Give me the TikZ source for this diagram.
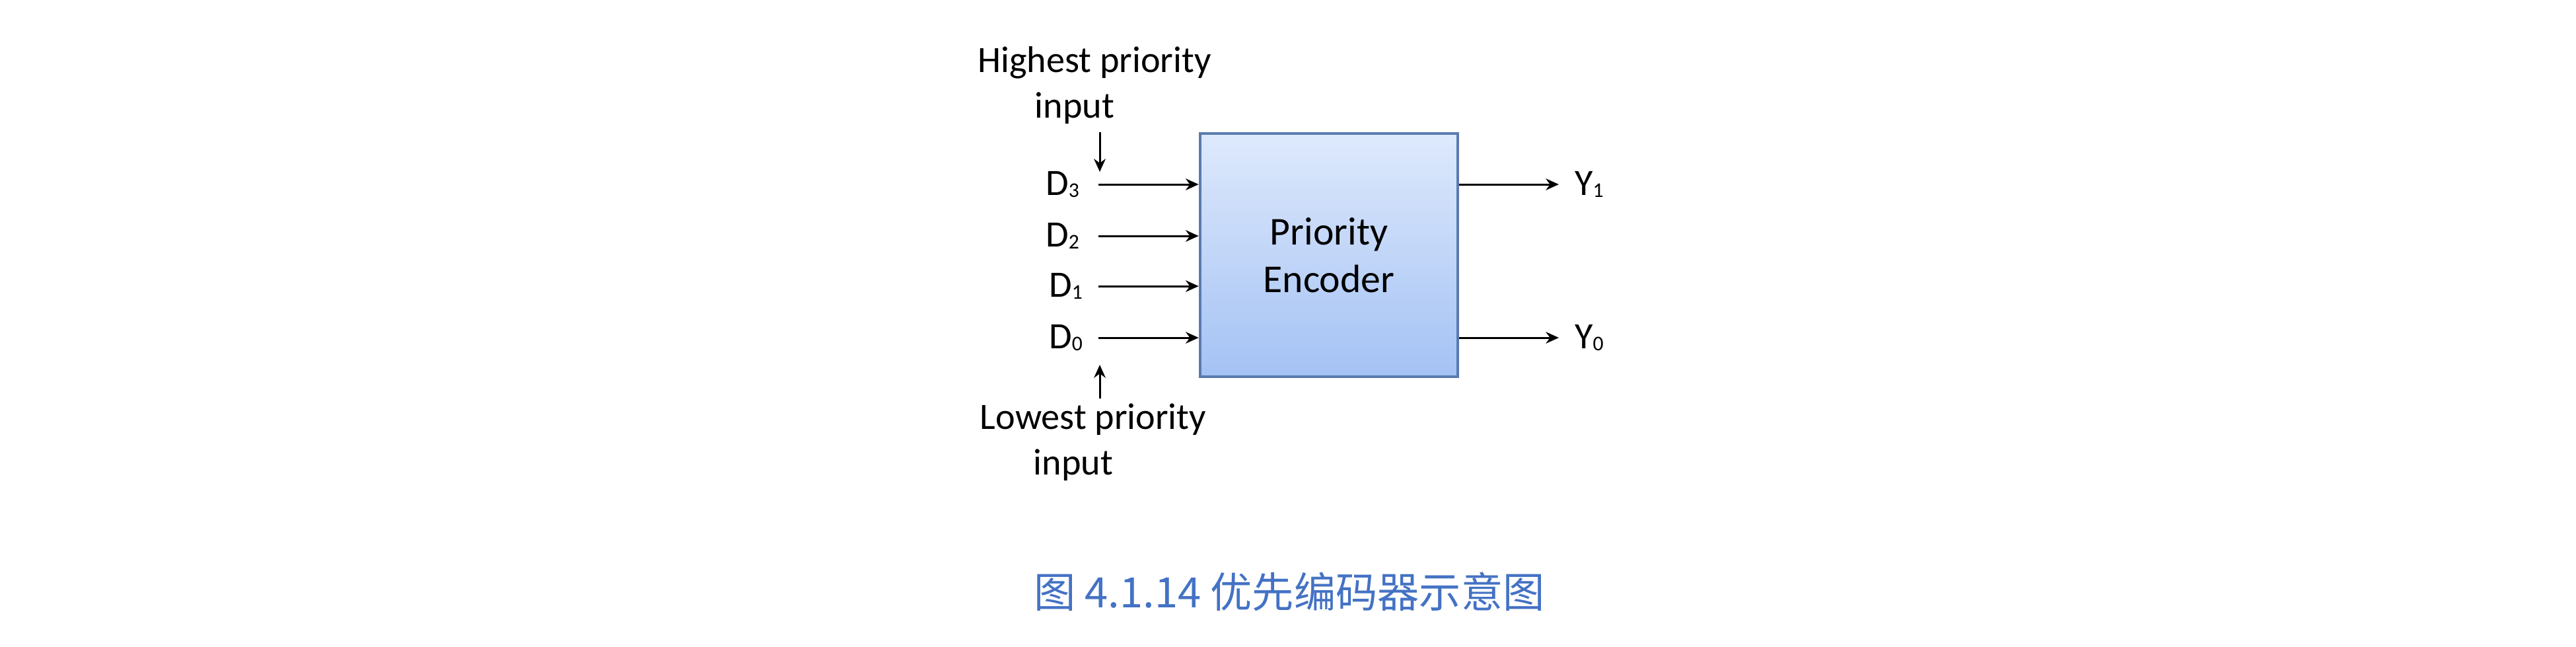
\documentclass[tikz,border=0pt]{standalone}
\usepackage{fontspec}
\setmainfont{Carlito}
\newfontfamily\cjkfont{Noto Sans CJK SC}
\usepackage{xcolor}
\usetikzlibrary{arrows.meta,positioning}
\definecolor{boxtop}{HTML}{DEE9FC}
\definecolor{boxbot}{HTML}{A4C2F4}
\definecolor{boxedge}{HTML}{5B7BAE}
\definecolor{capblue}{HTML}{4472C4}
\newcommand{\lsub}[1]{\raisebox{-1pt}{\fontsize{9}{9}\selectfont #1}}

\begin{document}
\begin{tikzpicture}[font=\fontsize{16}{19.6}\selectfont, >={Stealth[length=5.6pt,width=5pt]},
  enc/.style={draw=boxedge, line width=1.3pt, top color=boxtop, bottom color=boxbot, minimum width=3.9cm, minimum height=3.68cm, align=center, font=\fontsize{17}{20.5}\selectfont},
  sig/.style={->, line width=0.85pt},
  lab/.style={inner sep=1pt}]
  \useasboundingbox (0,0) rectangle (39,-9.78);
  % encoder block
  \node[enc] (pe) at (20.12,-3.86) {Priority\\Encoder};
  % input lines
  \coordinate (s3) at (16.63,-2.79);
  \coordinate (s2) at (16.63,-3.57);
  \coordinate (s1) at (16.63,-4.33);
  \coordinate (s0) at (16.63,-5.11);
  \node[lab, left=0.25cm of s3] (d3) {D\lsub{3}};
  \node[lab, left=0.25cm of s2] (d2) {D\lsub{2}};
  \node[lab, left=0.2cm of s1] (d1) {D\lsub{1}};
  \node[lab, left=0.2cm of s0] (d0) {D\lsub{0}};
  \draw[sig] (s3) -- (s3 -| pe.west); \draw[sig] (s2) -- (s2 -| pe.west);
  \draw[sig] (s1) -- (s1 -| pe.west); \draw[sig] (s0) -- (s0 -| pe.west);
  % outputs
  \coordinate (t1) at (23.60,-2.79);
  \coordinate (t0) at (23.60,-5.11);
  \node[lab, right=0.2cm of t1] (y1) {Y\lsub{1}};
  \node[lab, right=0.2cm of t0] (y0) {Y\lsub{0}};
  \draw[sig] (t1 -| pe.east) -- (t1); \draw[sig] (t0 -| pe.east) -- (t0);
  % priority notes
  \node[align=center] (hi) at (16.57,-1.29) {Highest priority\\input\hspace*{0.6cm}};
  \node[align=center] (lo) at (16.55,-6.69) {Lowest priority\\input\hspace*{0.6cm}};
  \coordinate (ha) at (16.65,-2.0); \coordinate (hb) at (16.65,-2.6);
  \coordinate (la) at (16.65,-6.03); \coordinate (lb) at (16.65,-5.52);
  \draw[sig] (ha) -- (hb);
  \draw[sig] (la) -- (lb);
  % caption
  \node[font=\cjkfont\fontsize{18}{22}\selectfont, text=capblue] (cap) at (19.52,-8.95) {图 4.1.14 优先编码器示意图};
\end{tikzpicture}
\end{document}
